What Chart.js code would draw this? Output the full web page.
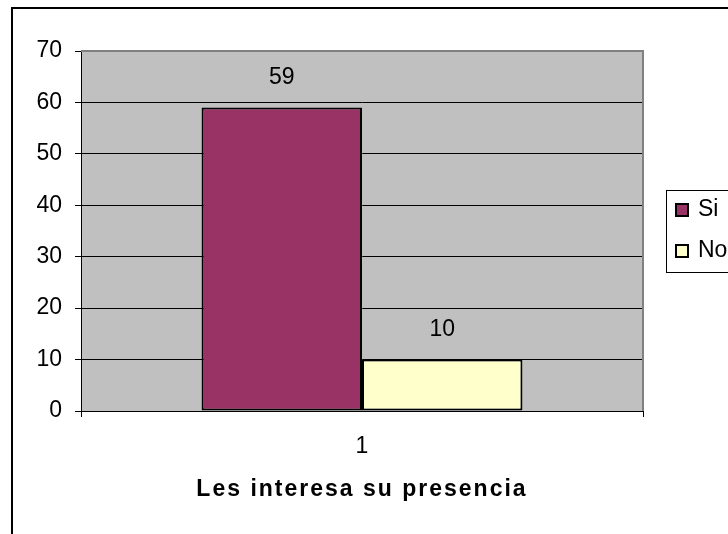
<!DOCTYPE html>
<html>
<head>
<meta charset="utf-8">
<script src="https://cdn.jsdelivr.net/npm/chart.js@4/dist/chart.umd.min.js"></script>
<style>
html, body { margin: 0; padding: 0; background: #fff; overflow: hidden; }
#wrap { position: relative; width: 728px; height: 534px; }
</style>
</head>
<body>
<div id="wrap"><canvas id="chart" width="728" height="534"></canvas></div>
<script>
// chart data
const categories = ['1'];
const seriesNames = ['Si', 'No'];
const siValues = [59];
const noValues = [10];
const seriesColors = ['#993366', '#FFFFCC'];
const yTickValues = [0, 10, 20, 30, 40, 50, 60, 70];
const axisTitle = 'Les interesa su presencia';

Chart.defaults.font.family = "'Liberation Sans', Arial, sans-serif";
Chart.defaults.color = '#000';

// gray plot area, outer frame, value labels and boxed legend (Excel look)
const excelFrame = {
    id: 'excelFrame',
    beforeDraw(chart) {
        const { ctx, chartArea: a, width, height } = chart;
        ctx.save();
        ctx.fillStyle = '#fff';
        ctx.fillRect(0, 0, width, height);
        ctx.strokeStyle = '#000';
        ctx.lineWidth = 2;
        ctx.strokeRect(12, 8, width + 20, height + 20);
        ctx.fillStyle = '#c0c0c0';
        ctx.fillRect(a.left, a.top, a.right - a.left, a.bottom - a.top);
        ctx.restore();
    },
    beforeDatasetsDraw(chart) {
        const { ctx, chartArea: a } = chart;
        ctx.save();
        ctx.strokeStyle = '#808080';
        ctx.lineWidth = 2;
        ctx.beginPath();
        ctx.moveTo(a.left, a.top);
        ctx.lineTo(a.right, a.top);
        ctx.lineTo(a.right, a.bottom);
        ctx.stroke();
        ctx.restore();
    },
    afterDatasetsDraw(chart) {
        const { ctx, chartArea: a } = chart;
        ctx.save();
        ctx.font = "23px 'Liberation Sans', Arial, sans-serif";
        ctx.fillStyle = '#000';
        ctx.textAlign = 'center';
        ctx.textBaseline = 'middle';
        chart.data.datasets.forEach((ds, i) => {
            chart.getDatasetMeta(i).data.forEach((bar, j) => {
                ctx.fillText(String(ds.data[j]), bar.x, bar.y - 30);
            });
        });

        // legend
        const cy = (a.top + a.bottom) / 2;
        const left = a.right + 23;
        const top = cy - 41;
        ctx.strokeStyle = '#000';
        ctx.lineWidth = 1;
        ctx.strokeRect(left + 0.5, top + 0.5, 200, 82);
        ctx.textAlign = 'left';
        chart.data.datasets.forEach((ds, i) => {
            const ty = cy - 21 + i * 41;
            ctx.fillStyle = ds.backgroundColor;
            ctx.fillRect(left + 10, ty - 6, 12, 12);
            ctx.lineWidth = 2;
            ctx.strokeRect(left + 10, ty - 6, 12, 12);
            ctx.fillStyle = '#000';
            ctx.fillText(ds.label, left + 32, ty);
        });
        ctx.restore();
        // spaced-out axis title (x grid layer is drawn after datasets)
        ctx.letterSpacing = '2px';
    },
    afterDraw(chart) {
        chart.ctx.letterSpacing = '0px';
    }
};

new Chart(document.getElementById('chart'), {
    type: 'bar',
    data: {
        labels: categories,
        datasets: [
            {
                label: seriesNames[0],
                data: siValues,
                backgroundColor: seriesColors[0],
                borderColor: '#000',
                borderWidth: 2,
                borderSkipped: false,
                categoryPercentage: 0.571,
                barPercentage: 1
            },
            {
                label: seriesNames[1],
                data: noValues,
                backgroundColor: seriesColors[1],
                borderColor: '#000',
                borderWidth: 2,
                borderSkipped: false,
                categoryPercentage: 0.571,
                barPercentage: 1
            }
        ]
    },
    options: {
        responsive: false,
        animation: false,
        devicePixelRatio: 1,
        layout: { padding: { top: 51, left: 0, right: 85, bottom: 0 } },
        plugins: {
            legend: { display: false },
            tooltip: { enabled: false }
        },
        scales: {
            x: {
                grid: { drawOnChartArea: false, drawTicks: true, tickLength: 6, tickColor: '#000', offset: true, z: 1 },
                border: { color: '#000', width: 1, z: 1 },
                ticks: { font: { size: 23 }, padding: 16, color: '#000' },
                title: {
                    display: true,
                    text: axisTitle,
                    color: '#000',
                    font: { size: 23, weight: 'bold' },
                    padding: { top: 0, bottom: 31 }
                },
                afterFit(scale) { scale.height = 123; }
            },
            y: {
                min: yTickValues[0],
                max: yTickValues[yTickValues.length - 1],
                ticks: { stepSize: yTickValues[1] - yTickValues[0], font: { size: 23 }, padding: 13, color: '#000' },
                grid: { color: '#000', lineWidth: 1, tickLength: 6, tickColor: '#000' },
                border: { color: '#000', width: 1 },
                afterFit(scale) { scale.width = 81; }
            }
        }
    },
    plugins: [excelFrame]
});
</script>
</body>
</html>
